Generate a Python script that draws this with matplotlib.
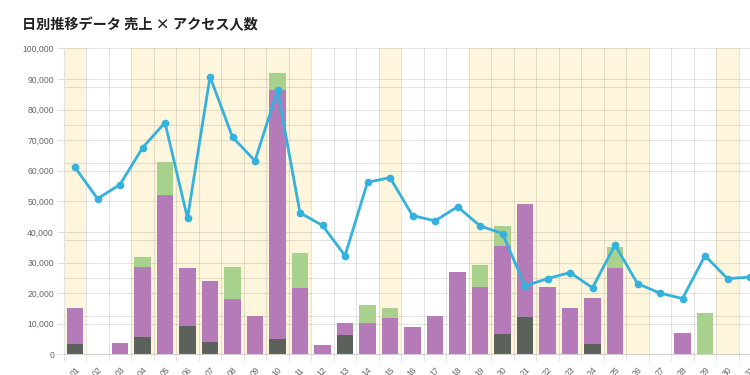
import numpy as np
import matplotlib
matplotlib.use("Agg")
from matplotlib import pyplot as plt
from matplotlib.ticker import FuncFormatter

plt.rcParams['font.family'] = ['Noto Sans CJK JP', 'DejaVu Sans']

# 日付ラベル (01..31)
days = [f"{d:02d}" for d in range(1, 32)]
# 背景を黄色にする日
highlight = [1, 4, 5, 6, 7, 8, 9, 10, 11, 15, 19, 20, 21, 22, 23, 24, 25, 26, 30]

# 売上 (積み上げ, 円)
sales_dark = [3400, 0, 0, 5650, 0, 9250, 3900, 0, 0, 5000, 0, 0, 6400, 0, 0, 0,
              0, 0, 0, 6600, 12100, 0, 0, 3500, 0, 0, 0, 0, 0, 0, 0]
sales_purple = [11800, 0, 3700, 22950, 52100, 19050, 20200, 18100, 12700, 81400, 21800,
                3100, 3700, 10200, 11900, 8900, 12400, 27000, 22100, 28700, 37200,
                22100, 15000, 15000, 28100, 0, 0, 6900, 0, 0, 0]
sales_green = [0, 0, 0, 3300, 10800, 0, 0, 10500, 0, 5600, 11200, 0, 0, 5900, 3100, 0,
               0, 0, 7100, 6500, 0, 0, 0, 0, 7100, 0, 0, 0, 13400, 0, 0]

# アクセス人数 (右軸)
access = [4890, 4070, 4440, 5400, 6060, 3560, 7260, 5680, 5060, 6910, 3700, 3370, 2580,
          4500, 4620, 3630, 3490, 3860, 3360, 3160, 1790, 1980, 2140, 1740, 2860, 1850,
          1600, 1460, 2580, 1980, 2020]

c_dark = '#5b625b'
c_purple = '#b57ab8'
c_green = '#a9d18e'
c_line = '#35b1dd'
c_band = '#fef5dd'
c_tick = '#666666'

fig = plt.figure(figsize=(7.5, 3.75), dpi=100)
fig.text(0.029, 0.933, "日別推移データ 売上 × アクセス人数", fontsize=10.2,
         fontweight='bold', va='center', ha='left', color='#222222')

ax = fig.add_axes([0.085, 0.055, 0.93, 0.816])
x = np.arange(len(days))
ax.set_xlim(-0.5, len(days) - 0.5)
ax.set_ylim(0, 100000)

for d in highlight:
    ax.axvspan(d - 1.5, d - 0.5, color=c_band, lw=0, zorder=0)

dark = np.array(sales_dark)
purple = np.array(sales_purple)
green = np.array(sales_green)
w = 0.72
ax.bar(x, dark, w, color=c_dark, zorder=2)
ax.bar(x, purple, w, bottom=dark, color=c_purple, zorder=2)
ax.bar(x, green, w, bottom=dark + purple, color=c_green, zorder=2)

# grid: left axis (major), right axis (minor), column borders
ax.set_axisbelow(True)
ax.set_yticks(np.arange(0, 100001, 10000))
ax.set_yticks(np.linspace(0, 100000, 9), minor=True)
ax.yaxis.set_major_formatter(FuncFormatter(lambda v, p: f"{int(v):,}"))
ax.set_xticks(x)
ax.set_xticklabels(days)
ax.set_xticks(np.arange(-0.5, len(days), 1), minor=True)
ax.grid(True, which='major', axis='y', color='black', alpha=0.1, lw=0.8)
ax.grid(True, which='minor', axis='both', color='black', alpha=0.1, lw=0.8)

ax.tick_params(axis='y', which='major', length=5, color='#e2e2e2', pad=2,
               labelsize=6.2, labelcolor=c_tick)
ax.tick_params(axis='y', which='minor', length=0)
ax.tick_params(axis='x', which='major', length=0, pad=8, labelsize=6.2,
               labelcolor=c_tick)
ax.tick_params(axis='x', which='minor', length=5, color='#e2e2e2')
for lbl in ax.get_yticklabels() + ax.get_xticklabels():
    lbl.set_fontfamily(['Liberation Sans', 'DejaVu Sans'])
for lbl in ax.get_xticklabels():
    lbl.set_rotation(45)
    lbl.set_ha('right')
    lbl.set_rotation_mode('anchor')

for s in ['top', 'right']:
    ax.spines[s].set_visible(False)
ax.spines['left'].set_color('#e2e2e2')
ax.spines['bottom'].set_color('#d0d0d0')

ax2 = ax.twinx()
ax2.set_ylim(0, 8000)
ax2.plot(x, access, color=c_line, lw=2, marker='o', markersize=4.5, zorder=3)
ax2.set_yticks([])
for s in ax2.spines.values():
    s.set_visible(False)

fig.savefig("out.png", dpi=100)
